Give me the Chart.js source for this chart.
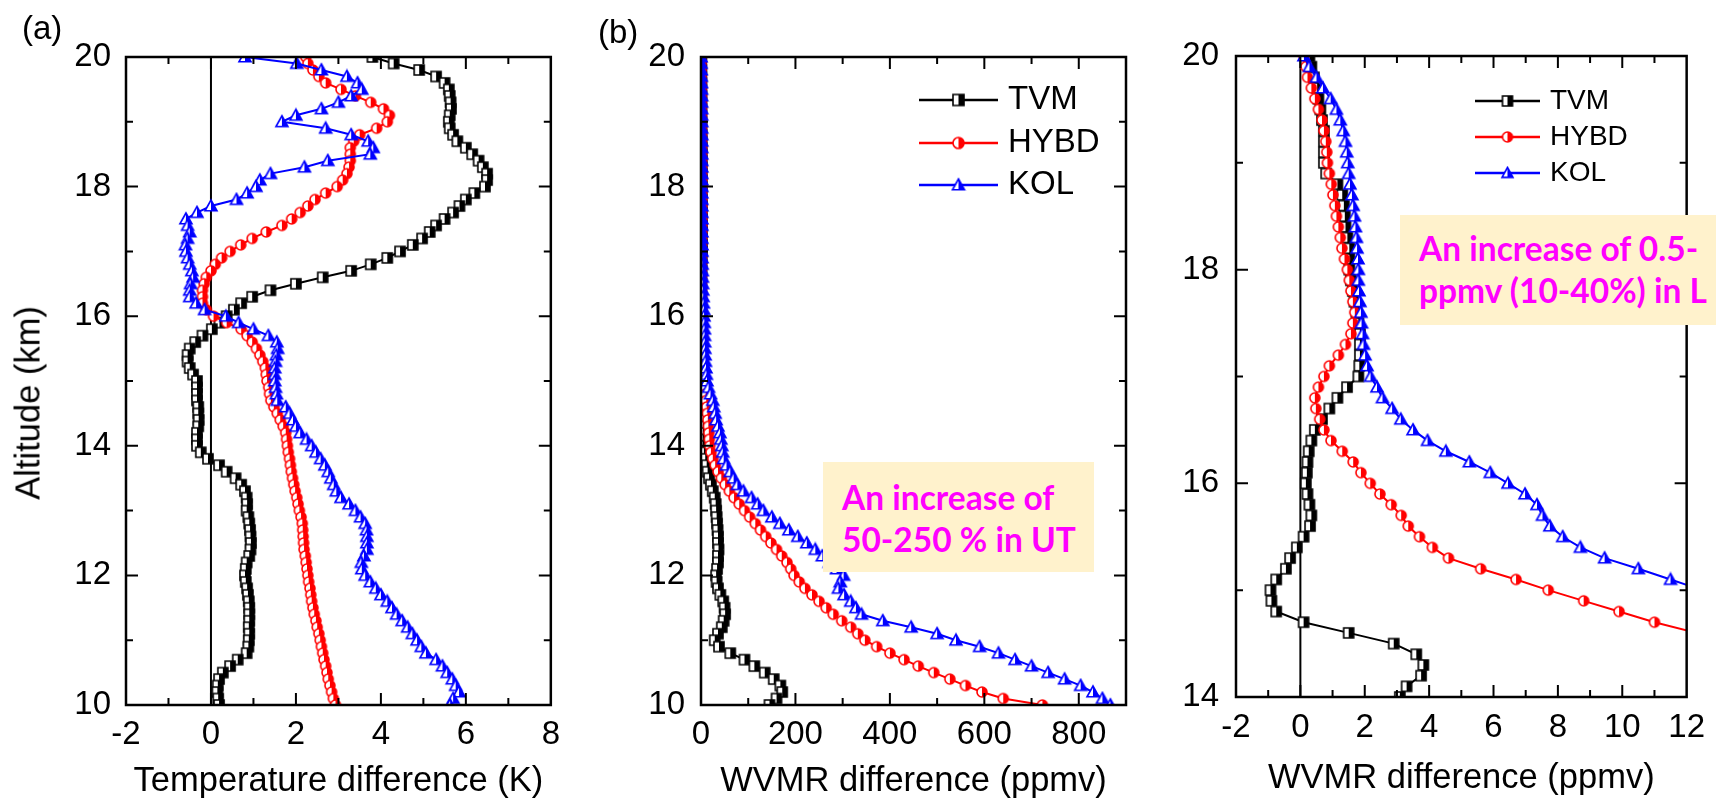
<!DOCTYPE html>
<html>
<head>
<meta charset="utf-8">
<script src="https://cdn.jsdelivr.net/npm/chart.js@4.4.0/dist/chart.umd.min.js"></script>
<style>
  body { margin: 0; width: 1716px; height: 802px; overflow: hidden; background: #fff; font-family: "Liberation Sans", Arial, sans-serif; }
  canvas { position: absolute; top: 0; }
  .lbl { position: absolute; font-size: 33px; line-height: 33px; color: #000; white-space: nowrap; }
  .note { position: absolute; background: #fff2cc; color: #ff00ff; font-family: Lato, "Open Sans", sans-serif; font-weight: bold; font-size: 33.5px; line-height: 42px; white-space: nowrap; overflow: hidden; box-sizing: border-box; }
</style>
</head>
<body>
<canvas id="chartA" width="570" height="802" style="left:0"></canvas>
<canvas id="chartB" width="560" height="802" style="left:580px"></canvas>
<canvas id="chartC" width="576" height="802" style="left:1140px"></canvas>
<div class="lbl" style="left:22px;top:11px">(a)</div>
<div class="lbl" style="left:598px;top:15px">(b)</div>
<div class="lbl" style="left:28px;top:403px;transform:translate(-50%,-50%) rotate(-90deg);font-size:34.5px">Altitude (km)</div>
<div class="note" style="left:823px;top:462px;width:271px;height:110px;padding:14px 0 0 19px">An increase of<br>50-250 % in UT</div>
<div class="note" style="left:1400px;top:215px;width:316px;height:110px;padding:12px 0 0 19px">An increase of 0.5-<br>ppmv (10-40%) in L</div>

<script>
// Altitude (km) of every profile level, top to bottom
const altitudes = [20.0,19.9,19.8,19.7,19.6,19.5,19.4,19.3,19.2,19.1,
  19.0,18.9,18.8,18.7,18.6,18.5,18.4,18.3,18.2,18.1,
  18.0,17.9,17.8,17.7,17.6,17.5,17.4,17.3,17.2,17.1,
  17.0,16.9,16.8,16.7,16.6,16.5,16.4,16.3,16.2,16.1,
  16.0,15.9,15.8,15.7,15.6,15.5,15.4,15.3,15.2,15.1,
  15.0,14.9,14.8,14.7,14.6,14.5,14.4,14.3,14.2,14.1,
  14.0,13.9,13.8,13.7,13.6,13.5,13.4,13.3,13.2,13.1,
  13.0,12.9,12.8,12.7,12.6,12.5,12.4,12.3,12.2,12.1,
  12.0,11.9,11.8,11.7,11.6,11.5,11.4,11.3,11.2,11.1,
  11.0,10.9,10.8,10.7,10.6,10.5,10.4,10.3,10.2,10.1,
  10.0];

const seriesNames = ['TVM', 'HYBD', 'KOL'];
const seriesColors = ['#000000', '#ff0000', '#0000ff'];

// (a) temperature difference (K)
const tempTVM = [3.8,4.3,4.9,5.3,5.5,5.6,5.62,5.64,5.65,5.62,
  5.6,5.62,5.7,5.8,6.0,6.15,6.3,6.4,6.5,6.5,
  6.45,6.2,6.0,5.85,5.7,5.5,5.3,5.15,4.97,4.75,
  4.45,4.15,3.76,3.3,2.63,2.0,1.4,0.97,0.71,0.54,
  0.37,0.2,0.02,-0.2,-0.37,-0.5,-0.55,-0.55,-0.5,-0.42,
  -0.33,-0.33,-0.33,-0.33,-0.3,-0.3,-0.29,-0.3,-0.33,-0.33,
  -0.33,-0.24,-0.07,0.19,0.37,0.58,0.71,0.8,0.84,0.85,
  0.84,0.88,0.9,0.92,0.93,0.94,0.93,0.9,0.84,0.82,
  0.8,0.82,0.85,0.87,0.89,0.9,0.9,0.9,0.89,0.9,
  0.89,0.88,0.84,0.63,0.45,0.28,0.19,0.16,0.15,0.17,
  0.19];
const tempHYBD = [2.23,2.28,2.4,2.54,2.7,3.06,3.4,3.76,4.06,4.2,
  4.15,3.9,3.5,3.36,3.28,3.28,3.28,3.25,3.2,3.1,
  2.97,2.7,2.45,2.28,2.1,1.9,1.67,1.3,0.97,0.7,
  0.45,0.25,0.1,0.0,-0.11,-0.16,-0.2,-0.2,-0.2,-0.11,
  0.06,0.37,0.71,0.85,0.97,1.07,1.15,1.22,1.28,1.3,
  1.32,1.36,1.38,1.41,1.48,1.56,1.63,1.7,1.76,1.78,
  1.8,1.82,1.85,1.87,1.89,1.92,1.95,1.98,2.02,2.05,
  2.08,2.12,2.15,2.16,2.17,2.18,2.19,2.22,2.24,2.26,
  2.28,2.3,2.33,2.35,2.37,2.4,2.43,2.47,2.5,2.54,
  2.57,2.6,2.63,2.66,2.7,2.73,2.76,2.8,2.84,2.88,
  2.93];
const tempKOL = [0.8,2.02,2.6,3.2,3.45,3.55,3.3,3.0,2.6,2.0,
  1.67,2.7,3.3,3.7,3.82,3.75,2.75,2.2,1.4,1.15,
  1.06,0.85,0.6,0.0,-0.33,-0.59,-0.55,-0.5,-0.55,-0.6,
  -0.59,-0.55,-0.5,-0.45,-0.42,-0.48,-0.5,-0.5,-0.35,-0.15,
  0.35,0.65,1.0,1.35,1.55,1.57,1.54,1.52,1.5,1.5,
  1.5,1.52,1.54,1.56,1.76,1.85,1.93,2.0,2.1,2.25,
  2.37,2.47,2.58,2.68,2.76,2.82,2.89,2.95,3.06,3.25,
  3.4,3.52,3.63,3.66,3.67,3.67,3.67,3.6,3.54,3.55,
  3.63,3.75,3.88,4.0,4.15,4.26,4.37,4.5,4.63,4.74,
  4.85,4.95,5.06,5.3,5.45,5.56,5.68,5.76,5.84,5.7,
  5.63];

// (b) and zoomed panel: WVMR difference (ppmv)
const wvTVM = [0.28,0.34,0.42,0.52,0.56,0.62,0.67,0.73,0.73,0.73,
  0.73,0.8,1.15,1.3,1.35,1.38,1.4,1.46,1.52,1.52,
  1.52,1.57,1.63,1.68,1.74,1.8,1.85,1.85,1.85,1.83,
  1.8,1.45,1.15,0.9,0.67,0.45,0.34,0.26,0.22,0.2,
  0.17,0.22,0.28,0.34,0.3,0.1,-0.11,-0.32,-0.45,-0.75,
  -0.93,-0.9,-0.75,0.1,1.5,2.9,3.6,3.82,3.75,3.3,
  3.09,6,9,12,14,17,21,25,29,31,
  32,33,34,35,36,36,37,36,36,34,
  32,33,36,41,47,50,51,48,44,36,
  29,38,62,92,113,135,154,168,172,160,
  145];
const wvHYBD = [0.11,0.17,0.22,0.34,0.45,0.56,0.67,0.73,0.79,0.82,
  0.84,0.9,0.96,1.01,1.07,1.12,1.18,1.24,1.29,1.37,
  1.46,1.52,1.57,1.63,1.69,1.63,1.57,1.4,1.18,0.9,
  0.73,0.56,0.45,0.48,0.6,0.73,0.95,1.3,1.64,1.88,
  2.17,2.47,2.82,3.13,3.35,3.7,4.1,4.6,5.6,6.7,
  7.7,8.8,9.9,11.0,12.3,13.5,14.5,15.5,16.5,17.5,
  18.5,21,25,30,36,43,51,60,70,81,
  92,103,115,126,137,148,160,171,182,190,
  197,208,220,235,250,265,280,298,317,332,
  347,372,400,430,460,493,527,560,595,640,
  723];
const wvKOL = [0.11,0.28,0.5,0.7,0.94,1.12,1.24,1.33,1.4,1.44,
  1.47,1.5,1.54,1.6,1.64,1.68,1.71,1.74,1.76,1.79,
  1.8,1.8,1.82,1.85,1.88,1.9,1.93,1.96,2.01,2.07,
  2.18,2.38,2.55,2.85,3.12,3.5,3.95,4.52,5.25,5.9,
  6.45,6.98,7.35,7.52,7.75,8.15,8.7,9.45,10.5,11.5,
  12.5,16,20,25,27,30,32,36,40,42,
  44,46,48,54,62,69,77,90,107,120,
  132,150,167,186,205,224,242,257,272,287,
  302,295,291,303,317,328,340,385,445,500,
  540,590,630,665,700,735,770,804,830,850,
  867];

// half-filled marker glyphs (left half white)
function makeMarker(shape, color, size) {
  const c = document.createElement('canvas');
  c.width = c.height = size + 4;
  const g = c.getContext('2d');
  const m = c.width / 2, r = size / 2;
  g.beginPath();
  if (shape === 'square') g.rect(m - r, m - r, size, size);
  else if (shape === 'circle') g.arc(m, m, r, 0, Math.PI * 2);
  else { g.moveTo(m, m - r); g.lineTo(m + r, m + r * 0.8); g.lineTo(m - r, m + r * 0.8); g.closePath(); }
  g.fillStyle = '#fff';
  g.fill();
  g.save();
  g.clip();
  g.fillStyle = color;
  g.fillRect(m, 0, m, c.height);
  g.restore();
  g.lineWidth = 1.6;
  g.strokeStyle = color;
  g.stroke();
  return c;
}
const shapes = ['square', 'circle', 'triangle'];
function markerSet(sizes) {
  return shapes.map((s, i) => makeMarker(s, seriesColors[i], sizes[i]));
}

function buildDatasets(values, markers) {
  return values.map((vals, i) => ({
    label: seriesNames[i],
    data: vals.map((v, k) => ({ x: v, y: altitudes[k] })),
    showLine: true,
    borderColor: seriesColors[i],
    backgroundColor: seriesColors[i],
    borderWidth: 2,
    pointStyle: markers[i],
    pointRadius: 5,
    tension: 0,
    order: 2 - i
  }));
}

// frame, inward ticks, zero line and legend
const framePlugin = {
  id: 'frame',
  beforeDatasetsDraw(chart, args, o) {
    const { ctx, chartArea: a, scales: { x } } = chart;
    if (!o.zeroLine) return;
    const px = x.getPixelForValue(0);
    ctx.save();
    ctx.strokeStyle = '#000';
    ctx.lineWidth = 2;
    ctx.beginPath();
    ctx.moveTo(px, a.top);
    ctx.lineTo(px, a.bottom);
    ctx.stroke();
    ctx.restore();
  },
  afterDatasetsDraw(chart, args, o) {
    const { ctx, chartArea: a, scales: { x, y } } = chart;
    ctx.save();
    ctx.strokeStyle = '#000';
    ctx.lineWidth = 2.5;
    ctx.strokeRect(a.left, a.top, a.right - a.left, a.bottom - a.top);
    ctx.lineWidth = 2;
    ctx.beginPath();
    const isMajor = (v, step) => Math.abs(v / step - Math.round(v / step)) < 1e-6;
    const nx = Math.round((x.max - x.min) / o.xMinor);
    for (let i = 1; i < nx; i++) {
      const v = x.min + i * o.xMinor;
      const px = x.getPixelForValue(v);
      const len = isMajor(v, o.xMajor) ? 12 : 7;
      ctx.moveTo(px, a.bottom); ctx.lineTo(px, a.bottom - len);
      ctx.moveTo(px, a.top); ctx.lineTo(px, a.top + len);
    }
    const ny = Math.round((y.max - y.min) / o.yMinor);
    for (let i = 1; i < ny; i++) {
      const v = y.min + i * o.yMinor;
      const py = y.getPixelForValue(v);
      const len = isMajor(v, o.yMajor) ? 12 : 7;
      ctx.moveTo(a.left, py); ctx.lineTo(a.left + len, py);
      ctx.moveTo(a.right, py); ctx.lineTo(a.right - len, py);
    }
    ctx.stroke();

    if (o.legend) {
      const L = o.legend;
      ctx.font = L.fontSize + 'px "Liberation Sans", Arial, sans-serif';
      ctx.textBaseline = 'middle';
      ctx.fillStyle = '#000';
      chart.data.datasets.forEach((ds, i) => {
        const ly = L.rows[i];
        ctx.strokeStyle = ds.borderColor;
        ctx.lineWidth = 2.5;
        ctx.beginPath();
        ctx.moveTo(L.x1, ly);
        ctx.lineTo(L.x2, ly);
        ctx.stroke();
        const mk = L.markers[i];
        ctx.drawImage(mk, (L.x1 + L.x2) / 2 - mk.width / 2, ly - mk.height / 2);
        ctx.fillText(ds.label, L.tx, ly);
      });
    }
    ctx.restore();
  }
};

const fontFamily = '"Liberation Sans", Arial, sans-serif';

function makeChart(id, p) {
  return new Chart(document.getElementById(id), {
    type: 'scatter',
    data: { datasets: p.datasets },
    options: {
      responsive: false,
      animation: false,
      devicePixelRatio: 1,
      layout: { padding: { top: p.padTop, right: p.padRight, left: 0, bottom: 0 } },
      plugins: {
        legend: { display: false },
        tooltip: { enabled: false },
        frame: p.frame
      },
      scales: {
        x: {
          type: 'linear', min: p.xMin, max: p.xMax,
          grid: { display: false, drawTicks: false },
          border: { display: false },
          ticks: { stepSize: p.xStep, includeBounds: false, autoSkip: false, maxRotation: 0,
                   padding: p.xTickPad, color: '#000', font: { family: fontFamily, size: 33 } },
          title: { display: true, text: p.xTitle, color: '#000',
                   font: { family: fontFamily, size: 34.5 }, padding: { top: 0, bottom: p.xTitlePad } },
          afterFit: s => { s.height = p.xHeight; }
        },
        y: {
          type: 'linear', min: p.yMin, max: p.yMax,
          grid: { display: false, drawTicks: false },
          border: { display: false },
          ticks: { stepSize: 2, includeBounds: false, autoSkip: false,
                   padding: p.yTickPad, color: '#000', font: { family: fontFamily, size: 33 } },
          afterFit: s => { s.width = p.yWidth; }
        }
      }
    },
    plugins: [framePlugin]
  });
}

// panel (a)
makeChart('chartA', {
  datasets: buildDatasets([tempTVM, tempHYBD, tempKOL], markerSet([10, 10, 12])),
  padTop: 57, padRight: 16, yWidth: 126, xHeight: 97,
  xMin: -2, xMax: 8, xStep: 2, yMin: 10, yMax: 20,
  xTickPad: 10, yTickPad: 15, xTitlePad: 0,
  xTitle: 'Temperature difference (K)',
  frame: { zeroLine: true, xMajor: 2, xMinor: 1, yMajor: 2, yMinor: 1 }
});

// panel (b)
makeChart('chartB', {
  datasets: buildDatasets([wvTVM, wvHYBD, wvKOL], markerSet([10, 10, 12])),
  padTop: 57, padRight: 14, yWidth: 121, xHeight: 97,
  xMin: 0, xMax: 900, xStep: 200, yMin: 10, yMax: 20,
  xTickPad: 10, yTickPad: 16, xTitlePad: 0,
  xTitle: 'WVMR difference (ppmv)',
  frame: { zeroLine: false, xMajor: 200, xMinor: 100, yMajor: 2, yMinor: 1,
           legend: { x1: 339, x2: 418, tx: 428, rows: [100, 143, 185], fontSize: 33,
                     markers: markerSet([11, 11, 12]) } }
});

// zoomed panel, 14-20 km
makeChart('chartC', {
  datasets: buildDatasets([wvTVM, wvHYBD, wvKOL], markerSet([10, 10, 12])),
  padTop: 56, padRight: 21, yWidth: 96, xHeight: 105,
  xMin: -2, xMax: 12, xStep: 2, yMin: 14, yMax: 20,
  xTickPad: 11, yTickPad: 17, xTitlePad: 3,
  xTitle: 'WVMR difference (ppmv)',
  frame: { zeroLine: true, xMajor: 2, xMinor: 1, yMajor: 2, yMinor: 1,
           legend: { x1: 335, x2: 400, tx: 410, rows: [101, 137, 173], fontSize: 28,
                     markers: markerSet([10, 10, 11]) } }
});
</script>
</body>
</html>
